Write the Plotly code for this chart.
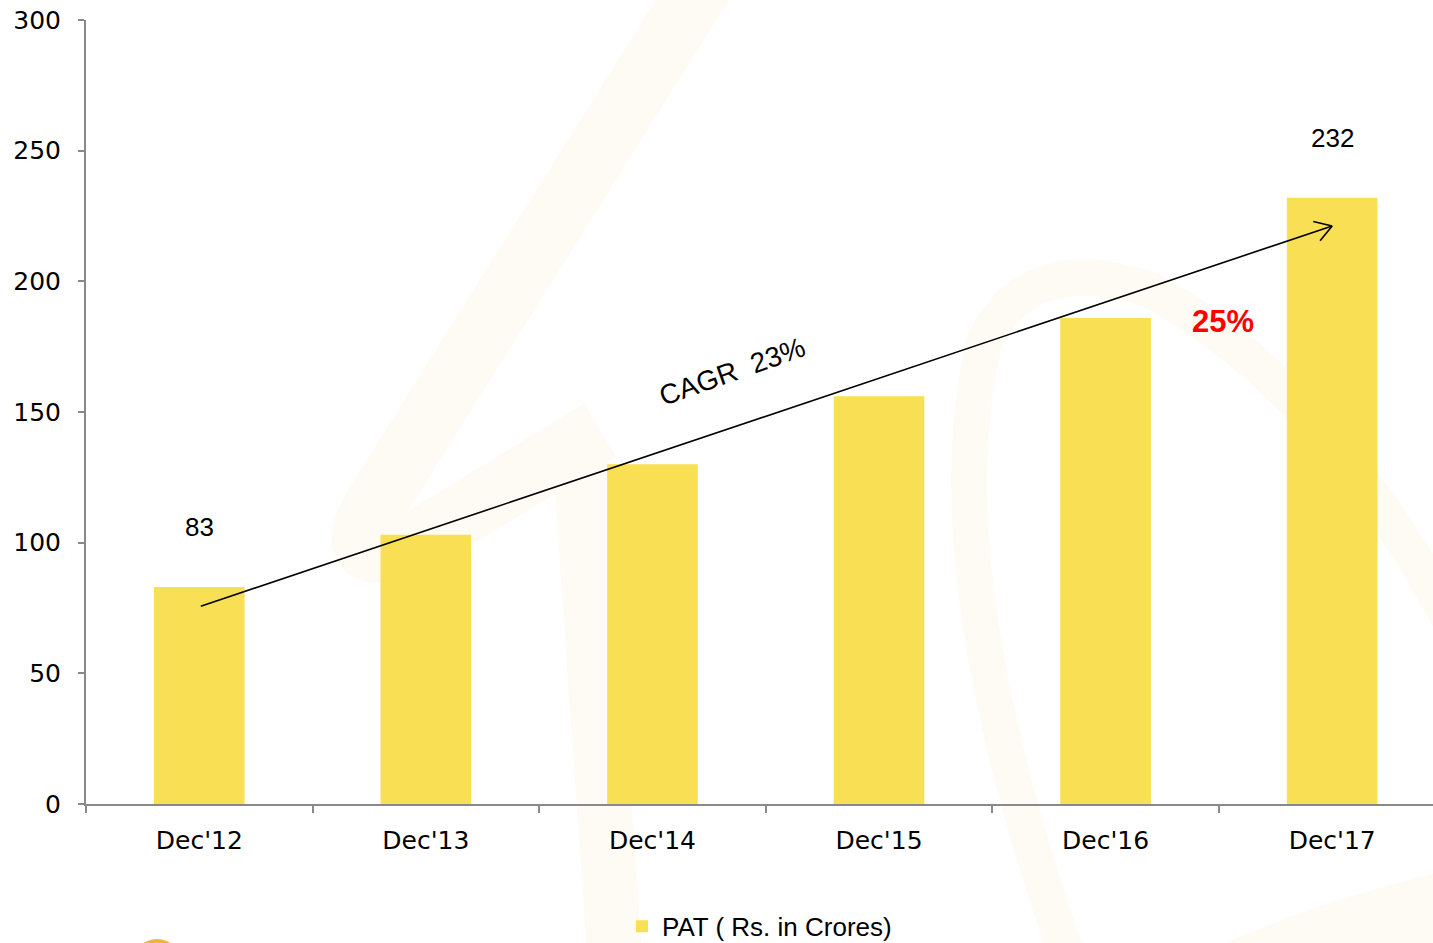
import numpy as np
import plotly.graph_objects as go

categories = ["Dec'12", "Dec'13", "Dec'14", "Dec'15", "Dec'16", "Dec'17"]
pat_values = [83, 103, 130, 156, 186, 232]
label_points = {"Dec'12": "83", "Dec'17": "232"}
y_ticks = [0, 50, 100, 150, 200, 250, 300]
series_name = "PAT ( Rs. in Crores)"
cagr_text = "CAGR\u00a0\u00a023%"
growth_text = "25%"
arrow_start = (0, 75.5)
arrow_end = (5, 221.2)
x_range = [-0.5, 5.445]

W, H = 1433, 943
ML, MR, MT, MB = 86, 0, 20, 139
PW, PH = W - ML - MR, H - MT - MB
FONT = "Liberation Sans, Arial, sans-serif"
TICKFONT = "DejaVu Sans, sans-serif"
BAR = "#F9DF53"
AXIS = "#898989"


def px2paper(x, y):
    return (x - ML) / PW, (H - MB - y) / PH


def path_from_px(cmds):
    out = []
    for c in cmds:
        if isinstance(c, str):
            out.append(c)
        else:
            px, py = px2paper(*c)
            out.append(f"{px:.4f},{py:.4f}")
    return " ".join(out)


fig = go.Figure()
fig.add_trace(go.Bar(
    x=categories, y=pat_values, name=series_name,
    marker=dict(color=BAR, line=dict(width=0)), width=0.4,
    showlegend=True,
))

# faint watermark decoration (background)
wm = "#FEFBF5"
shapes = [
    dict(type="path", xref="paper", yref="paper", layer="below",
         path=path_from_px(["M", (705, -20), "L", (375, 505), "Q", (335, 575), (420, 540),
                            "L", (600, 430)]),
         line=dict(color=wm, width=62)),
    dict(type="path", xref="paper", yref="paper", layer="below",
         path=path_from_px(["M", (580, 455), "L", (615, 960)]),
         line=dict(color=wm, width=55)),
    dict(type="path", xref="paper", yref="paper", layer="below",
         path=path_from_px(["M", (1065, 950), "Q", (930, 560), (985, 340),
                            "Q", (1030, 250), (1150, 290), "Q", (1320, 380), (1450, 620)]),
         line=dict(color=wm, width=36)),
    dict(type="path", xref="paper", yref="paper", layer="below",
         path=path_from_px(["M", (1190, 960), "Q", (1300, 905), (1450, 870), "L", (1450, 960), "Z"]),
         fillcolor=wm, line=dict(width=0)),
]
cx, cy = px2paper(157, 964)
rx, ry = 25 / PW, 25 / PH
shapes.append(dict(type="circle", xref="paper", yref="paper", layer="above",
                   x0=cx - rx, x1=cx + rx, y0=cy - ry, y1=cy + ry,
                   fillcolor="#F2B33A", line=dict(width=0)))

annotations = []
# value labels
for cat, txt in label_points.items():
    v = pat_values[categories.index(cat)]
    annotations.append(dict(x=cat, y=v, xref="x", yref="y", text=txt, showarrow=False,
                            yshift=60, font=dict(family=FONT, size=26, color="#000000")))

# CAGR arrow line
annotations.append(dict(x=arrow_end[0], y=arrow_end[1], ax=arrow_start[0], ay=arrow_start[1],
                        xref="x", yref="y", axref="x", ayref="y", text="", showarrow=True,
                        arrowhead=0, arrowwidth=1.6, arrowcolor="#000000", standoff=0, startstandoff=0))
# open V arrow head computed from line direction in pixels
span = x_range[1] - x_range[0]
x0p = ML + (arrow_start[0] - x_range[0]) * PW / span
x1p = ML + (arrow_end[0] - x_range[0]) * PW / span
y0p = MT + PH * (1 - arrow_start[1] / 300)
y1p = MT + PH * (1 - arrow_end[1] / 300)
d = np.array([x0p - x1p, y0p - y1p])
d = d / np.linalg.norm(d)
for ang in (np.radians(32), -np.radians(32)):
    rot = np.array([[np.cos(ang), -np.sin(ang)], [np.sin(ang), np.cos(ang)]])
    off = rot @ d * 21
    annotations.append(dict(x=arrow_end[0], y=arrow_end[1], xref="x", yref="y",
                            ax=float(off[0]), ay=float(off[1]), text="", showarrow=True,
                            arrowhead=0, arrowwidth=1.6, arrowcolor="#000000",
                            standoff=0, startstandoff=0))

annotations.append(dict(x=2.352, y=165.5, xref="x", yref="y", text=cagr_text, showarrow=False,
                        textangle=-19.5, font=dict(family=FONT, size=28, color="#000000")))
annotations.append(dict(x=4.52, y=184.5, xref="x", yref="y", text=f"<b>{growth_text}</b>",
                        showarrow=False, font=dict(family=FONT, size=31, color="#FF0000")))

fig.update_layout(
    width=W, height=H,
    margin=dict(l=ML, r=MR, t=MT, b=MB, pad=0, autoexpand=False),
    paper_bgcolor="white", plot_bgcolor="rgba(0,0,0,0)",
    font=dict(family=FONT, size=24, color="#000000"),
    shapes=shapes,
    annotations=annotations,
    showlegend=True,
    legend=dict(orientation="h", x=0.5, xanchor="center", y=-0.156, yanchor="middle",
                font=dict(family=FONT, size=26, color="#000000"), bgcolor="rgba(0,0,0,0)",
                itemwidth=30),
    xaxis=dict(
        range=x_range, showline=True, linecolor=AXIS, linewidth=2, automargin=False,
        ticks="outside", tickson="boundaries", ticklen=7, tickcolor=AXIS, tickwidth=2,
        showgrid=False, zeroline=False, ticklabelstandoff=13,
        tickfont=dict(family=TICKFONT, size=25, color="#000000"),
    ),
    yaxis=dict(
        range=[0, 300], tickvals=y_ticks, showline=True, linecolor=AXIS, linewidth=2,
        automargin=False,
        ticks="outside", ticklen=6, tickcolor=AXIS, tickwidth=2,
        showgrid=False, zeroline=False, ticklabelstandoff=12,
        tickfont=dict(family=TICKFONT, size=25, color="#000000"),
    ),
)

fig.write_html("out.html")
